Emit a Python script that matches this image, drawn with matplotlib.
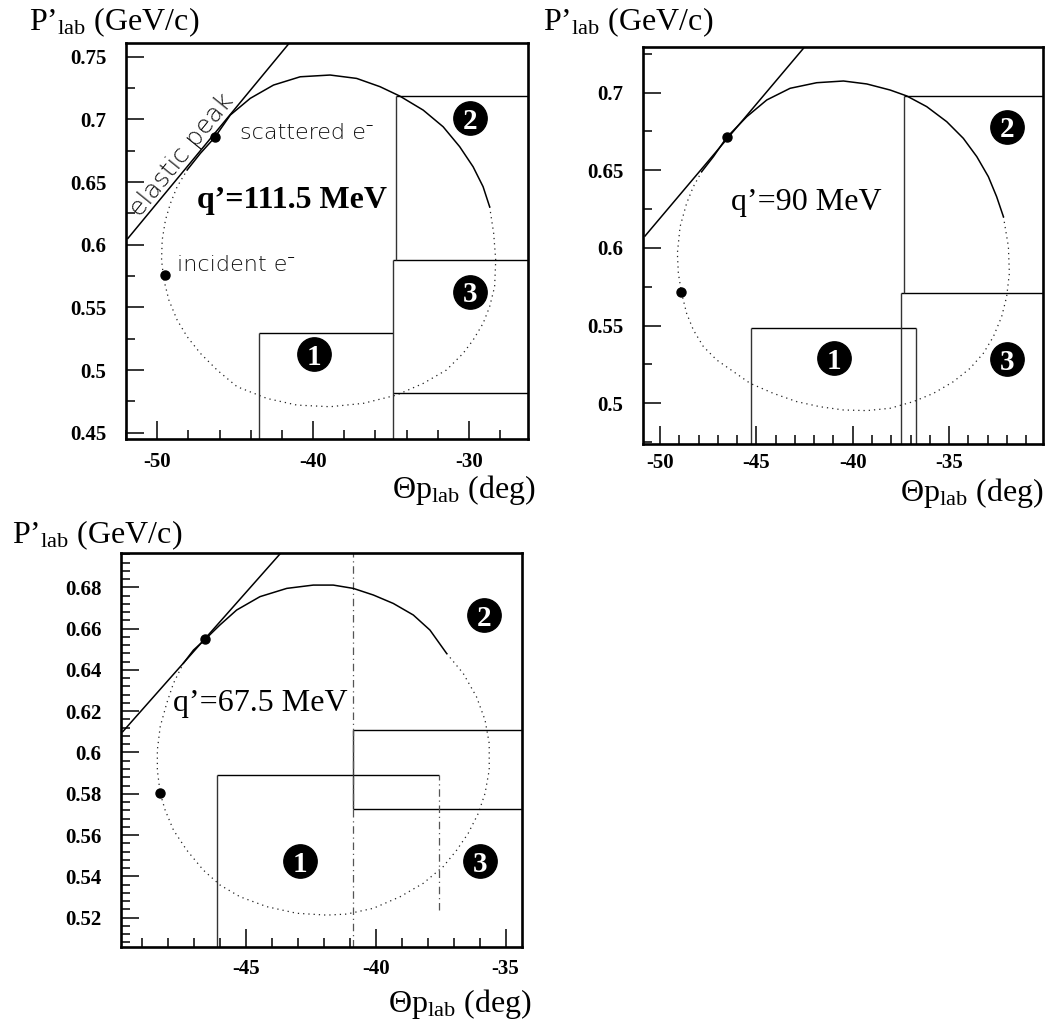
import matplotlib
matplotlib.use("Agg")
import matplotlib.pyplot as plt
from matplotlib.ticker import MultipleLocator

plt.rcParams['font.family'] = ['Liberation Serif', 'DejaVu Serif']
plt.rcParams['mathtext.fontset'] = 'custom'
plt.rcParams['mathtext.rm'] = 'Liberation Serif'
plt.rcParams['mathtext.it'] = 'Liberation Serif:italic'
plt.rcParams['mathtext.bf'] = 'Liberation Serif:bold'

# ---------------- Panel 1 : q' = 111.5 MeV ----------------
p1_xlim = (-52.0, -26.2)
p1_ylim = (0.4447, 0.7612)
p1_xticks = [-50, -40, -30]
p1_xticklabels = ["-50", "-40", "-30"]
p1_yticks = [0.45, 0.50, 0.55, 0.60, 0.65, 0.70, 0.75]
p1_yticklabels = ["0.45", "0.5", "0.55", "0.6", "0.65", "0.7", "0.75"]
p1_solid_theta = [-48.08, -47.23, -46.31, -45.31, -44.03, -42.54, -40.83, -38.91, -37.21,
                  -35.71, -34.44, -32.94, -31.66, -30.60, -29.74, -29.10, -28.68]
p1_solid_p = [0.6596, 0.6729, 0.6856, 0.7035, 0.7168, 0.7274, 0.7340, 0.7354, 0.7327,
              0.7261, 0.7186, 0.7074, 0.6941, 0.6782, 0.6622, 0.6463, 0.6303]
p1_dot_theta = [-28.68, -28.42, -28.29, -28.36, -28.68, -29.10, -29.74, -30.38, -31.45, -32.94,
                -34.65, -36.78, -38.91, -41.04, -42.96, -44.88, -46.16, -47.23, -48.08, -48.72,
                -49.25, -49.57, -49.72, -49.68, -49.47, -49.15, -48.72, -48.08]
p1_dot_p = [0.6303, 0.6090, 0.5877, 0.5665, 0.5505, 0.5372, 0.5239, 0.5133, 0.5000, 0.4893,
            0.4800, 0.4734, 0.4707, 0.4720, 0.4773, 0.4867, 0.5000, 0.5133, 0.5266, 0.5399,
            0.5558, 0.5718, 0.5877, 0.6037, 0.6197, 0.6330, 0.6463, 0.6596]
p1_elastic_theta = [-51.88, -41.58]
p1_elastic_p = [0.6050, 0.7601]
p1_points_theta = [-46.31, -49.47]
p1_points_p = [0.6856, 0.5758]
p1_hlines = [(0.7186, -34.69, -26.2), (0.5877, -34.86, -26.2), (0.4813, -34.86, -26.2),
             (0.5298, -43.45, -34.86)]
p1_vlines = [(-34.69, 0.5877, 0.7186), (-34.86, 0.4447, 0.5877), (-43.45, 0.4447, 0.5298)]
p1_region_theta = [-39.94, -29.96, -29.96]
p1_region_p = [0.5125, 0.7008, 0.5625]
p1_qlabel = "q’=111.5 MeV"
p1_qpos = (-41.36, 0.6356)

# ---------------- Panel 2 : q' = 90 MeV ----------------
p2_xlim = (-50.9, -30.14)
p2_ylim = (0.4738, 0.7292)
p2_xticks = [-50, -45, -40, -35]
p2_xticklabels = ["-50", "-45", "-40", "-35"]
p2_yticks = [0.50, 0.55, 0.60, 0.65, 0.70]
p2_yticklabels = ["0.5", "0.55", "0.6", "0.65", "0.7"]
p2_solid_theta = [-47.84, -47.23, -46.54, -45.50, -44.46, -43.25, -41.87, -40.48, -39.27,
                  -38.06, -37.20, -36.16, -35.12, -34.26, -33.56, -32.96, -32.53, -32.18]
p2_solid_p = [0.6491, 0.6588, 0.6712, 0.6845, 0.6953, 0.7028, 0.7064, 0.7075, 0.7056,
              0.7017, 0.6979, 0.6910, 0.6813, 0.6706, 0.6588, 0.6459, 0.6330, 0.6202]
p2_dot_theta = [-32.18, -31.92, -31.87, -32.01, -32.27, -32.70, -33.22, -33.91, -34.78, -35.81,
                -36.85, -38.06, -39.27, -40.48, -41.70, -42.91, -44.12, -45.33, -46.19, -47.06,
                -47.75, -48.27, -48.62, -48.88, -49.05, -49.10, -48.96, -48.62, -48.27, -47.84]
p2_dot_p = [0.6202, 0.6009, 0.5837, 0.5687, 0.5558, 0.5429, 0.5322, 0.5225, 0.5139, 0.5064,
            0.5011, 0.4968, 0.4953, 0.4957, 0.4978, 0.5011, 0.5064, 0.5129, 0.5204, 0.5279,
            0.5365, 0.5472, 0.5579, 0.5708, 0.5837, 0.5966, 0.6137, 0.6288, 0.6395, 0.6491]
p2_elastic_theta = [-50.78, -42.56]
p2_elastic_p = [0.6077, 0.7285]
p2_points_theta = [-46.54, -48.91]
p2_points_p = [0.6712, 0.5719]
p2_hlines = [(0.6979, -37.34, -30.14), (0.5708, -37.51, -30.14), (0.5483, -45.29, -36.70)]
p2_vlines = [(-37.34, 0.5708, 0.6979), (-37.51, 0.4738, 0.5708), (-45.29, 0.4738, 0.5483),
             (-36.70, 0.4738, 0.5483)]
p2_region_theta = [-40.97, -32.01, -31.97]
p2_region_p = [0.5290, 0.6781, 0.5283]
p2_qlabel = "q’=90 MeV"
p2_qpos = (-42.39, 0.6292)

# ---------------- Panel 3 : q' = 67.5 MeV ----------------
p3_xlim = (-49.81, -34.38)
p3_ylim = (0.5059, 0.6965)
p3_xticks = [-45, -40, -35]
p3_xticklabels = ["-45", "-40", "-35"]
p3_yticks = [0.52, 0.54, 0.56, 0.58, 0.60, 0.62, 0.64, 0.66, 0.68]
p3_yticklabels = ["0.52", "0.54", "0.56", "0.58", "0.6", "0.62", "0.64", "0.66", "0.68"]
p3_solid_theta = [-47.40, -47.01, -46.56, -45.99, -45.35, -44.45, -43.42, -42.40, -41.63,
                  -40.86, -40.09, -39.32, -38.55, -37.91, -37.27]
p3_solid_p = [0.6432, 0.6496, 0.6548, 0.6618, 0.6690, 0.6755, 0.6795, 0.6811, 0.6811,
              0.6795, 0.6763, 0.6722, 0.6666, 0.6593, 0.6480]
p3_dot_theta = [-37.27, -36.63, -36.12, -35.79, -35.63, -35.63, -35.79, -36.05, -36.44, -36.88,
                -37.40, -38.17, -39.06, -40.09, -41.12, -41.88, -43.04, -44.19, -45.22, -45.99,
                -46.63, -47.27, -47.78, -48.10, -48.29, -48.40, -48.40, -48.29, -48.04, -47.78,
                -47.40]
p3_dot_p = [0.6480, 0.6383, 0.6270, 0.6157, 0.6044, 0.5915, 0.5802, 0.5705, 0.5608, 0.5527,
            0.5447, 0.5366, 0.5301, 0.5245, 0.5217, 0.5212, 0.5221, 0.5253, 0.5301, 0.5358,
            0.5430, 0.5527, 0.5624, 0.5721, 0.5802, 0.5915, 0.6012, 0.6125, 0.6238, 0.6335,
            0.6432]
p3_elastic_theta = [-49.73, -43.68]
p3_elastic_p = [0.6101, 0.6962]
p3_points_theta = [-46.56, -48.29]
p3_points_p = [0.6548, 0.5805]
p3_hlines = [(0.6109, -40.88, -34.38), (0.5724, -40.88, -34.38), (0.5891, -46.10, -37.55)]
p3_vlines = [(-40.88, 0.5724, 0.6109), (-46.10, 0.5059, 0.5891)]
p3_dd_vlines = [(-40.88, 0.5059, 0.6965), (-37.55, 0.5237, 0.5891)]
p3_region_theta = [-42.91, -35.83, -35.99]
p3_region_p = [0.5474, 0.6666, 0.5474]
p3_qlabel = "q’=67.5 MeV"
p3_qpos = (-44.42, 0.6238)

region_numbers = ["1", "2", "3"]

W, H = 1058, 1025
fig = plt.figure(figsize=(W / 100, H / 100), dpi=100)


def px_rect(l, r, t, b):
    return [l / W, 1 - b / H, (r - l) / W, (b - t) / H]


ax1 = fig.add_axes(px_rect(126, 528.3, 42.7, 439.3))
ax2 = fig.add_axes(px_rect(642.7, 1042.7, 47.3, 444))
ax3 = fig.add_axes(px_rect(120.7, 521.7, 553.3, 946.7))


def setup(ax, xlim, ylim, xt, xtl, xminor, yt, ytl, yminor, xpad=9):
    ax.set_xlim(*xlim)
    ax.set_ylim(*ylim)
    ax.set_xticks(xt)
    ax.set_xticklabels(xtl, fontweight='bold', fontsize=15)
    ax.set_yticks(yt)
    ax.set_yticklabels(ytl, fontweight='bold', fontsize=15)
    ax.xaxis.set_minor_locator(MultipleLocator(xminor))
    ax.yaxis.set_minor_locator(MultipleLocator(yminor))
    ax.tick_params(which='both', direction='in', top=False, right=False, width=1.1, color='black')
    ax.tick_params(which='major', length=13)
    ax.tick_params(which='minor', length=6.5)
    ax.tick_params(axis='x', which='major', pad=xpad)
    ax.tick_params(axis='y', which='major', pad=14)
    for s in ax.spines.values():
        s.set_linewidth(1.9)


def draw(ax, st, sp, dt, dp, et, ep, pt, pp, hl, vl, rt, rp, ql, qpos, qbold):
    ax.plot(dt, dp, color='#222222', lw=0.9, linestyle=(0, (1, 3.2)), zorder=2)
    ax.plot(st, sp, color='black', lw=1.1, zorder=3)
    ax.plot(et, ep, color='black', lw=1.1, zorder=3)
    ax.plot(pt, pp, 'o', color='black', ms=6.5, zorder=4)
    for (y, x0, x1) in hl:
        ax.hlines(y, x0, x1, colors='black', lw=1.0, zorder=2)
    for (x, y0, y1) in vl:
        ax.vlines(x, y0, y1, colors='#333333', lw=1.0, zorder=2)
    for (x, y), n in zip(zip(rt, rp), region_numbers):
        ax.plot(x, y, 'o', color='black', ms=24, zorder=5)
        ax.text(x, y, n, color='white', fontsize=21, fontweight='bold',
                ha='center', va='center_baseline', zorder=6)
    ax.text(qpos[0], qpos[1], ql, fontsize=23, fontweight='bold' if qbold else 'normal',
            ha='center', va='center', zorder=6)


setup(ax1, p1_xlim, p1_ylim, p1_xticks, p1_xticklabels, 2, p1_yticks, p1_yticklabels, 0.025)
setup(ax2, p2_xlim, p2_ylim, p2_xticks, p2_xticklabels, 1, p2_yticks, p2_yticklabels, 0.025,
      xpad=6.5)
setup(ax3, p3_xlim, p3_ylim, p3_xticks, p3_xticklabels, 1, p3_yticks, p3_yticklabels, 0.004)

draw(ax1, p1_solid_theta, p1_solid_p, p1_dot_theta, p1_dot_p, p1_elastic_theta, p1_elastic_p,
     p1_points_theta, p1_points_p, p1_hlines, p1_vlines, p1_region_theta, p1_region_p,
     p1_qlabel, p1_qpos, True)
draw(ax2, p2_solid_theta, p2_solid_p, p2_dot_theta, p2_dot_p, p2_elastic_theta, p2_elastic_p,
     p2_points_theta, p2_points_p, p2_hlines, p2_vlines, p2_region_theta, p2_region_p,
     p2_qlabel, p2_qpos, False)
draw(ax3, p3_solid_theta, p3_solid_p, p3_dot_theta, p3_dot_p, p3_elastic_theta, p3_elastic_p,
     p3_points_theta, p3_points_p, p3_hlines, p3_vlines, p3_region_theta, p3_region_p,
     p3_qlabel, p3_qpos, False)
for (x, y0, y1) in p3_dd_vlines:
    ax3.vlines(x, y0, y1, colors='#555555', lw=0.9, linestyles=(0, (6, 3, 1, 3)), zorder=2)

# annotations in panel 1 (thin sans; fallback family supplies the superscript minus)
sans = ['DejaVu Sans', 'Noto Sans', 'Liberation Sans']
ax1.text(-48.40, 0.6715, "elastic peak", family=sans, fontweight='light', fontsize=18,
         rotation=51, rotation_mode='anchor', ha='center', va='center', color='#111111')
ax1.text(-44.67, 0.6888, "scattered e⁻", family=sans, fontweight='light', fontsize=16,
         ha='left', va='center', color='#111111')
ax1.text(-48.76, 0.5838, "incident e⁻", family=sans, fontweight='light', fontsize=16,
         ha='left', va='center', color='#111111')

# axis titles
ylab = r"P’$_{\mathrm{lab}}$ (GeV/c)"
xlab = r"Θp$_{\mathrm{lab}}$ (deg)"
for (x, y) in [(29, 30), (543, 30), (12, 543)]:
    fig.text(x / W, 1 - y / H, ylab, fontsize=23, ha='left', va='baseline')
for (x, y) in [(391.7, 498), (900, 501), (388.3, 1011.7)]:
    fig.text(x / W, 1 - y / H, xlab, fontsize=23, ha='left', va='baseline')

fig.savefig("out.png", dpi=100)
